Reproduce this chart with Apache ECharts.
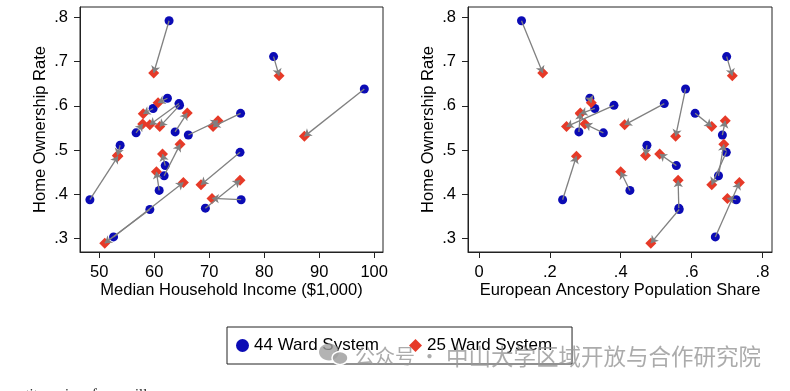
<!DOCTYPE html>
<html>
<head>
<meta charset="utf-8">
<script src="https://cdn.jsdelivr.net/npm/echarts@6/dist/echarts.min.js"></script>
<style>
html,body{margin:0;padding:0;background:#fff;}
#chart{width:790px;height:391px;}
</style>
</head>
<body>
<div id="chart"></div>
<script>
// ---- Data ----
const seriesNames = ['44 Ward System', '25 Ward System'];
// Median household income ($1,000): old (44 ward) -> new (25 ward)
const incomeOld = [62.7, 81.7, 98.2, 62.4, 64.5, 63.8, 56.7, 66.2, 75.7, 53.8, 48.3, 75.6, 62.0, 61.8, 60.9, 75.8, 69.3, 59.2, 52.6, 59.8, 64.6];
const incomeNew = [59.9, 82.7, 87.3, 60.7, 59.2, 66.0, 57.9, 71.6, 70.7, 53.3, 53.4, 68.5, 61.5, 64.7, 60.4, 70.5, 75.6, 51.0, 65.3, 58.0, 61.0];
// European ancestry population share
const shareOld = [0.120, 0.699, 0.583, 0.313, 0.523, 0.282, 0.351, 0.687, 0.610, 0.474, 0.236, 0.698, 0.557, 0.676, 0.426, 0.726, 0.564, 0.565, 0.667, 0.327, 0.381];
const shareNew = [0.180, 0.715, 0.555, 0.317, 0.411, 0.286, 0.299, 0.695, 0.657, 0.470, 0.275, 0.657, 0.510, 0.691, 0.400, 0.701, 0.562, 0.485, 0.735, 0.286, 0.247];
// Home ownership rate
const ownOld = [0.792, 0.711, 0.638, 0.617, 0.605, 0.541, 0.539, 0.534, 0.583, 0.511, 0.388, 0.495, 0.465, 0.442, 0.409, 0.388, 0.369, 0.366, 0.304, 0.594, 0.601];
const ownNew = [0.674, 0.668, 0.531, 0.607, 0.557, 0.584, 0.559, 0.566, 0.553, 0.488, 0.486, 0.422, 0.491, 0.513, 0.451, 0.391, 0.432, 0.290, 0.427, 0.582, 0.553];
// Tick labels
const incomeTicks = [50, 60, 70, 80, 90, 100];
const shareTicks = [0, 0.2, 0.4, 0.6, 0.8];
const ownTicks = [0.3, 0.4, 0.5, 0.6, 0.7, 0.8];

const BLUE = '#0b0bb5';
const RED = '#e63a28';
const FONT = '"Liberation Sans", Arial, sans-serif';

function fmt(v) {
  const s = String(Math.round(v * 1000) / 1000);
  return s.replace(/^0\./, '.');
}

function xAxisCfg(gi, min, max, ticks, name) {
  return {
    gridIndex: gi, type: 'value', min: min, max: max,
    name: name, nameLocation: 'middle', nameGap: 30, nameMoveOverlap: false,
    nameTextStyle: { fontSize: 16.5, color: '#000', fontFamily: FONT },
    axisLine: { show: true, onZero: false, lineStyle: { color: '#222', width: 1 } },
    splitLine: { show: false },
    axisTick: { show: true, inside: false, length: 6, customValues: ticks, lineStyle: { color: '#222', width: 1 } },
    axisLabel: { customValues: ticks, fontSize: 16.5, color: '#000', margin: 12, fontFamily: FONT, formatter: fmt }
  };
}
function yAxisCfg(gi) {
  return {
    gridIndex: gi, type: 'value', min: 0.27, max: 0.823,
    name: 'Home Ownership Rate', nameLocation: 'middle', nameGap: 31, nameMoveOverlap: false,
    nameTextStyle: { fontSize: 16.5, color: '#000', fontFamily: FONT },
    axisLine: { show: true, onZero: false, lineStyle: { color: '#222', width: 1 } },
    splitLine: { show: false },
    axisTick: { show: true, inside: false, length: 6, customValues: ownTicks, lineStyle: { color: '#222', width: 1 } },
    axisLabel: { customValues: ownTicks, fontSize: 16.5, color: '#000', margin: 12, fontFamily: FONT, formatter: fmt }
  };
}

function pts(xs, ys) { return xs.map((x, i) => [x, ys[i]]); }
function arrows(x1, y1, x2, y2) {
  return x1.map((x, i) => ({ coords: [[x, y1[i]], [x2[i], y2[i]]] }));
}

function panelSeries(gi, xOld, xNew) {
  return [
    { name: seriesNames[0], type: 'scatter', xAxisIndex: gi, yAxisIndex: gi,
      symbol: 'circle', symbolSize: 9, itemStyle: { color: BLUE, opacity: 1 },
      data: pts(xOld, ownOld), z: 2 },
    { name: seriesNames[1], type: 'scatter', xAxisIndex: gi, yAxisIndex: gi,
      symbol: 'diamond', symbolSize: 11, itemStyle: { color: RED, opacity: 1 },
      data: pts(xNew, ownNew), z: 3 },
    { type: 'lines', coordinateSystem: 'cartesian2d', xAxisIndex: gi, yAxisIndex: gi,
      symbol: ['none', 'arrow'], symbolSize: 7,
      lineStyle: { color: '#808080', width: 1.3, opacity: 1 },
      data: arrows(xOld, ownOld, xNew, ownNew), z: 4, silent: true }
  ];
}

const chart = echarts.init(document.getElementById('chart'), null, { renderer: 'canvas' });
chart.setOption({
  animation: false,
  backgroundColor: '#fff',
  textStyle: { fontFamily: FONT },
  grid: [
    { left: 80, top: 7, width: 303, height: 245, show: true, borderColor: '#222', borderWidth: 1, backgroundColor: 'transparent' },
    { left: 468, top: 7, width: 304, height: 245, show: true, borderColor: '#222', borderWidth: 1, backgroundColor: 'transparent' }
  ],
  xAxis: [
    xAxisCfg(0, 46.5, 101.6, incomeTicks, 'Median Household Income ($1,000)'),
    xAxisCfg(1, -0.031, 0.827, shareTicks, 'European Ancestory Population Share')
  ],
  yAxis: [yAxisCfg(0), yAxisCfg(1)],
  legend: {
    data: seriesNames,
    left: 227, top: 327,
    orient: 'horizontal',
    padding: [8, 20, 8, 9],
    itemGap: 30,
    itemWidth: 13, itemHeight: 13,
    borderColor: '#222', borderWidth: 1,
    textStyle: { fontSize: 17, color: '#000', fontFamily: FONT, lineHeight: 19, padding: [2, 0, 0, 0] },
    selectedMode: false
  },
  series: [].concat(panelSeries(0, incomeOld, incomeNew), panelSeries(1, shareOld, shareNew)),
  graphic: [
    { type: 'ellipse', shape: { cx: 329, cy: 352, rx: 10, ry: 8.5 }, style: { fill: 'rgba(160,160,160,0.8)' }, z: 100 },
    { type: 'ellipse', shape: { cx: 340, cy: 358, rx: 8, ry: 6.5 }, style: { fill: 'rgba(160,160,160,0.85)', stroke: '#fff', lineWidth: 1.5 }, z: 101 },
    { type: 'text', left: 355, top: 346, z: 100,
      style: { text: '公众号 ·', fontSize: 20, fill: 'rgba(150,150,150,0.8)', fontFamily: '"Noto Sans CJK SC", sans-serif' } },
    { type: 'text', left: 446, top: 345, z: 100,
      style: { text: '中山大学区域开放与合作研究院', fontSize: 22.5, fill: 'rgba(150,150,150,0.8)', fontFamily: '"Noto Sans CJK SC", sans-serif' } },
    { type: 'text', left: -1, top: 387.5, z: 100,
      style: { text: 'constituencies of councillors', fontSize: 14.5, fill: '#222', fontFamily: '"Liberation Serif", serif' } }
  ]
});
</script>
</body>
</html>
